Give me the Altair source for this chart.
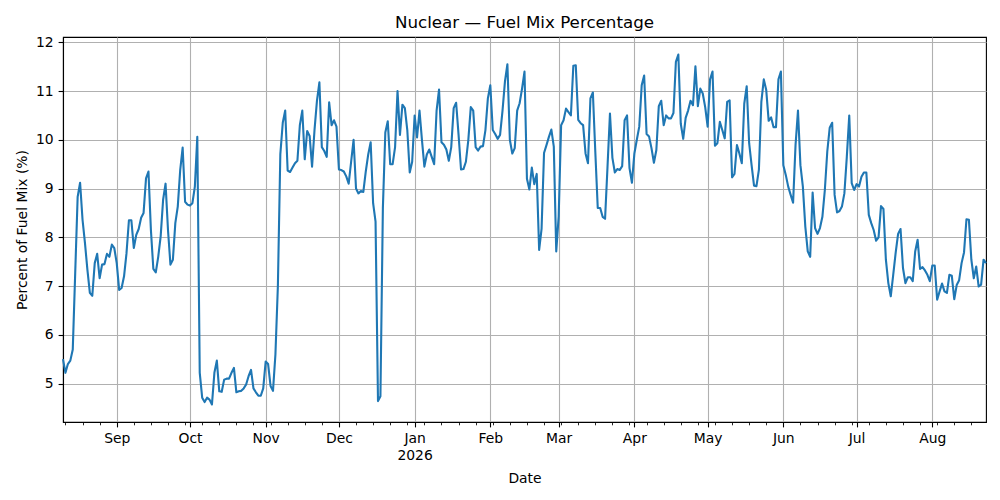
import altair as alt
import pandas as pd

start_date = "2025-08-10"

# Nuclear share of the fuel mix (%), one value per day
pct_2025 = [
    5.5, 5.22, 5.4, 5.47, 5.7, 7.27, 8.83, 9.12, 8.36, 7.88,
    7.33, 6.86, 6.8, 7.47, 7.66, 7.16, 7.44, 7.45, 7.66, 7.6,
    7.85, 7.78, 7.47, 6.92, 6.96, 7.2, 7.67, 8.35, 8.35, 7.78,
    8.05, 8.17, 8.4, 8.5, 9.21, 9.35, 8.15, 7.35, 7.28, 7.6,
    8.02, 8.77, 9.1, 8.15, 7.44, 7.54, 8.29, 8.63, 9.38, 9.84,
    8.73, 8.67, 8.65, 8.7, 9.04, 10.06, 5.22, 4.71, 4.62, 4.71,
    4.67, 4.57, 5.22, 5.47, 4.84, 4.83, 5.08, 5.1, 5.1, 5.22,
    5.32, 4.82, 4.84, 4.85, 4.9, 4.98, 5.15, 5.28, 4.9, 4.82,
    4.75, 4.75, 4.9, 5.45, 5.4, 4.95, 4.85, 5.6, 7.0, 9.7,
    10.35, 10.6, 9.37, 9.34, 9.43, 9.52, 9.57, 10.3, 10.6, 9.6,
    10.18, 10.08, 9.45, 10.2, 10.8, 11.18, 9.85, 9.77, 9.65, 10.77,
    10.3, 10.4, 10.27, 9.39, 9.38, 9.35, 9.25, 9.1, 9.55, 10.0,
    9.0, 8.9, 8.95, 8.93, 9.35, 9.7, 9.95, 8.7, 8.32, 4.64,
    4.74, 8.6, 10.15, 10.38, 9.5, 9.5, 9.85, 11.0, 10.1, 10.72,
    10.65, 10.2, 9.33, 9.55,
]
pct_2026 = [
    10.5, 10.05, 10.6, 10.0, 9.45, 9.7, 9.8, 9.65, 9.5, 10.6,
    11.03, 9.95, 9.9, 9.8, 9.57, 9.85, 10.65, 10.76, 10.1, 9.39,
    9.4, 9.55, 10.0, 10.67, 10.6, 9.85, 9.78, 9.86, 9.87, 10.2,
    10.85, 11.12, 10.2, 10.12, 10.02, 10.1, 10.6, 11.2, 11.55, 10.0,
    9.72, 9.83, 10.6, 10.75, 11.05, 11.4, 9.2, 8.98, 9.43, 9.09,
    9.3, 7.74, 8.18, 9.73, 9.89, 10.06, 10.21, 9.86, 7.71, 8.43,
    10.3, 10.4, 10.64, 10.57, 10.5, 11.52, 11.53, 10.41, 10.34, 10.3,
    9.72, 9.52, 10.85, 10.97, 9.75, 8.6, 8.6, 8.42, 8.38, 9.45,
    10.54, 9.63, 9.33, 9.4, 9.38, 9.46, 10.4, 10.5, 9.42, 9.12,
    9.72, 10.0, 10.27, 11.12, 11.32, 10.12, 10.07, 9.83, 9.53, 9.79,
    10.69, 10.8, 10.3, 10.5, 10.44, 10.44, 10.55, 11.6, 11.75, 10.33,
    10.02, 10.45, 10.6, 10.8, 10.71, 11.51, 10.69, 11.05, 10.95, 10.67,
    10.27, 11.24, 11.4, 9.88, 9.93, 10.37, 10.2, 10.03, 10.78, 10.81,
    9.23, 9.3, 9.89, 9.72, 9.52, 10.74, 11.1, 9.93, 9.48, 9.06,
    9.05, 9.39, 10.78, 11.24, 11.02, 10.39, 10.46, 10.26, 10.26, 11.24,
    11.4, 9.48, 9.28, 9.04, 8.87, 8.71, 9.89, 10.6, 9.48, 9.04,
    8.22, 7.71, 7.6, 8.92, 8.19, 8.07, 8.19, 8.42, 8.97, 9.76,
    10.25, 10.35, 8.87, 8.51, 8.54, 8.63, 8.9, 9.65, 10.5, 9.11,
    8.97, 9.09, 9.04, 9.24, 9.33, 9.33, 8.46, 8.29, 8.15, 7.93,
    8.0, 8.64, 8.58, 7.54, 7.06, 6.79, 7.23, 7.68, 8.07, 8.17,
    7.37, 7.06, 7.18, 7.18, 7.1, 7.71, 7.95, 7.35, 7.39, 7.32,
    7.23, 7.1, 7.42, 7.42, 6.72, 6.89, 7.05, 6.89, 6.86, 7.23,
    7.21, 6.73, 7.02, 7.12, 7.47, 7.69, 8.37, 8.36, 7.54, 7.16,
    7.4, 6.99, 7.03, 7.54, 7.47,
]
y_ticks = [5, 6, 7, 8, 9, 10, 11, 12]

values = pct_2025 + pct_2026
dates = pd.date_range(start_date, periods=len(values), freq="D")
df = pd.DataFrame({"date": dates.strftime("%Y-%m-%d"), "pct": values})


def ms(ts):
    return int(pd.Timestamp(ts).value // 10**6)


month_starts = pd.date_range(dates[0], dates[-1], freq="MS")
mondays = pd.date_range(dates[0], dates[-1], freq="W-MON")
tick_vals = sorted(set(ms(t) for t in month_starts) | set(ms(t) for t in mondays))

lo, hi = min(values), max(values)
span = hi - lo
y_domain = [lo - 0.05 * span, hi + 0.05 * span]

is_month = "utcdate(datum.value) == 1"
label_expr = (
    "utcdate(datum.value) == 1 ? (utcmonth(datum.value) == 0 ? "
    "[utcFormat(datum.value, '%b'), utcFormat(datum.value, '%Y')] : "
    "utcFormat(datum.value, '%b')) : ''"
)

chart = (
    alt.Chart(df)
    .mark_line(color="#1f77b4", strokeWidth=2.1, strokeJoin="round")
    .encode(
        x=alt.X(
            "date:T",
            title="Date",
            scale=alt.Scale(type="utc", domain=[ms(dates[0]), ms(dates[-1])], nice=False),
            axis=alt.Axis(
                values=tick_vals,
                labelExpr=label_expr,
                labelOverlap=False,
                labelFlush=False,
                labelBound=False,
                labelLineHeight=16.7,
                labelPadding=4.9,
                tickSize={"condition": {"test": is_month, "value": 4.9}, "value": 2.8},
                tickWidth={"condition": {"test": is_month, "value": 1.1}, "value": 0.85},
                gridOpacity={"condition": {"test": is_month, "value": 1}, "value": 0},
                titlePadding=9,
            ),
        ),
        y=alt.Y(
            "pct:Q",
            title="Percent of Fuel Mix (%)",
            scale=alt.Scale(domain=y_domain, nice=False, zero=False),
            axis=alt.Axis(
                values=y_ticks,
                format="d",
                tickSize=4.9,
                labelPadding=4.9,
                titlePadding=6,
            ),
        ),
    )
    .properties(
        width=923,
        height=385,
        title=alt.TitleParams(
            "Nuclear — Fuel Mix Percentage",
            fontSize=16.7,
            font="DejaVu Sans",
            fontWeight="normal",
            color="black",
            anchor="middle",
            offset=4,
        ),
        autosize=alt.AutoSizeParams(type="none"),
        padding={"left": 55, "top": 29, "right": 6, "bottom": 70},
    )
    .configure(font="DejaVu Sans")
    .configure_view(stroke="black", strokeWidth=1.1)
    .configure_axis(
        labelFont="DejaVu Sans",
        titleFont="DejaVu Sans",
        labelFontSize=13.9,
        titleFontSize=13.9,
        labelColor="black",
        titleColor="black",
        titleFontWeight="normal",
        domainColor="black",
        domainWidth=1.1,
        tickColor="black",
        tickWidth=1.1,
        gridColor="#b0b0b0",
        gridWidth=1.1,
        grid=True,
    )
)

chart.save("out.html", embed_options={"renderer": "svg", "actions": False})
